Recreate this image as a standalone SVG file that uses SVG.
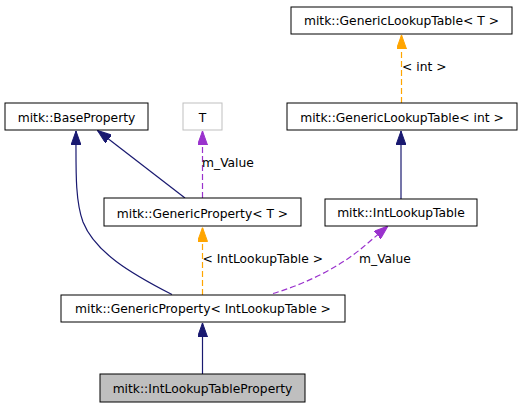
<svg xmlns="http://www.w3.org/2000/svg" width="521" height="408" viewBox="0 0 521 408">
<style>
  .box { fill: #ffffff; stroke: #000000; stroke-width: 1; }
  .gray { fill: #ffffff; stroke: #bfbfbf; stroke-width: 1; }
  .cur { fill: #bfbfbf; stroke: #000000; stroke-width: 1; }
  text { font-family: "DejaVu Sans", "Liberation Sans", sans-serif; font-size: 12.3px; fill: #000000; }
  .lbl { text-anchor: middle; }
  .inh { fill: none; stroke: #191970; stroke-width: 1.2; }
  .tpl { fill: none; stroke: #ffa500; stroke-width: 1.2; stroke-dasharray: 6,3; }
  .use { fill: none; stroke: #9a32cd; stroke-width: 1.2; stroke-dasharray: 6,3; }
</style>
<defs>
  <marker id="aNavy" viewBox="0 0 14 10" refX="14" refY="5" markerWidth="14" markerHeight="10" markerUnits="userSpaceOnUse" orient="auto">
    <path d="M0,0 L14,5 L0,10 z" fill="#191970" stroke="#191970" stroke-width="1"/>
  </marker>
  <marker id="aOrange" viewBox="0 0 14 10" refX="14" refY="5" markerWidth="14" markerHeight="10" markerUnits="userSpaceOnUse" orient="auto">
    <path d="M0,0 L14,5 L0,10 z" fill="#ffa500" stroke="#ffa500" stroke-width="1"/>
  </marker>
  <marker id="aPurple" viewBox="0 0 14 10" refX="14" refY="5" markerWidth="14" markerHeight="10" markerUnits="userSpaceOnUse" orient="auto">
    <path d="M0,0 L14,5 L0,10 z" fill="#9a32cd" stroke="#9a32cd" stroke-width="1"/>
  </marker>
</defs>
<g id="connectors">
  <path class="tpl" d="M401.5,103 L401.5,35" marker-end="url(#aOrange)"/>
  <text x="402" y="70.5">&lt; int &gt;</text>
  <path class="inh" d="M401,199 L401,131" marker-end="url(#aNavy)"/>
  <path class="use" d="M202.5,198 L202.5,131" marker-end="url(#aPurple)" style="stroke-dasharray:6,3"/>
  <text x="202" y="167">m_Value</text>
  <path class="inh" d="M185,198 L97.5,130.5" marker-end="url(#aNavy)"/>
  <path class="inh" d="M172,294.5 C130,273 95,252 83,222 C75,200 76,170 76,131" marker-end="url(#aNavy)"/>
  <path class="tpl" d="M202.5,295 L202.5,227.5" marker-end="url(#aOrange)"/>
  <text x="202.5" y="262.5">&lt; IntLookupTable &gt;</text>
  <path class="use" d="M273,293.5 C305,284 338,268 362,248 L388,226" marker-end="url(#aPurple)"/>
  <text x="359" y="262.5">m_Value</text>
  <path class="inh" d="M202.5,374 L202.5,323" marker-end="url(#aNavy)"/>
</g>
<g id="node-GenericLookupTableT">
  <rect class="box" x="291" y="7" width="221" height="27"/>
  <text class="lbl" x="401.5" y="25">mitk::GenericLookupTable&lt; T &gt;</text>
</g>
<g id="node-BaseProperty">
  <rect class="box" x="5" y="103" width="143" height="27"/>
  <text class="lbl" x="76.5" y="121.5">mitk::BaseProperty</text>
</g>
<g id="node-T">
  <rect class="gray" x="183" y="103" width="39" height="27"/>
  <text class="lbl" x="202.5" y="121.5">T</text>
</g>
<g id="node-GenericLookupTableInt">
  <rect class="box" x="287" y="103" width="230" height="27"/>
  <text class="lbl" x="402" y="121.5">mitk::GenericLookupTable&lt; int &gt;</text>
</g>
<g id="node-GenericPropertyT">
  <rect class="box" x="104" y="198" width="197" height="28"/>
  <text class="lbl" x="202.5" y="217.5">mitk::GenericProperty&lt; T &gt;</text>
</g>
<g id="node-IntLookupTable">
  <rect class="box" x="325" y="199" width="152" height="27"/>
  <text class="lbl" x="401" y="217">mitk::IntLookupTable</text>
</g>
<g id="node-GenericPropertyIntLookupTable">
  <rect class="box" x="61" y="295" width="284" height="27"/>
  <text class="lbl" x="203" y="313">mitk::GenericProperty&lt; IntLookupTable &gt;</text>
</g>
<g id="node-IntLookupTableProperty">
  <rect class="cur" x="100" y="374" width="205" height="28"/>
  <text class="lbl" x="202.5" y="393">mitk::IntLookupTableProperty</text>
</g>
</svg>
